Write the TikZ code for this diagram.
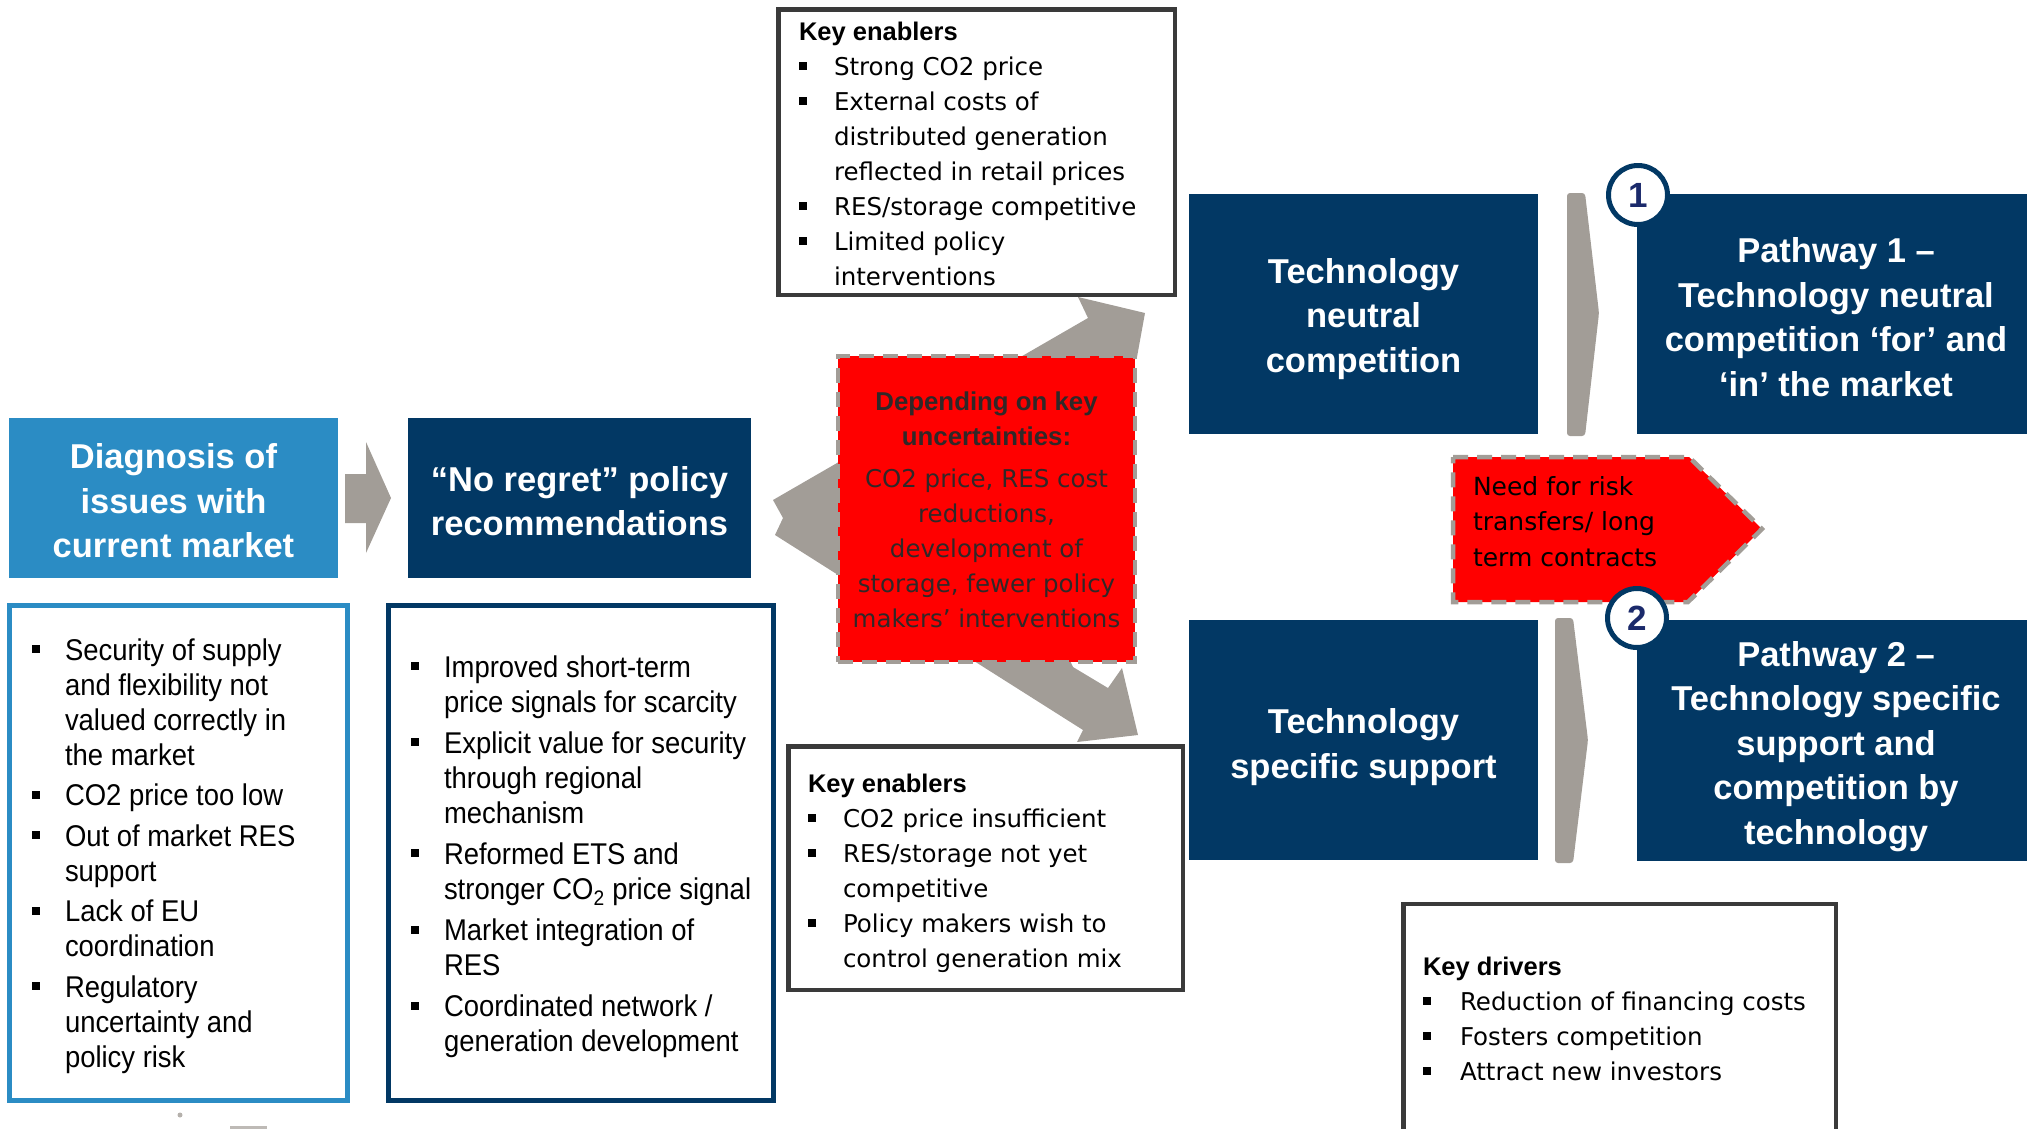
\documentclass[tikz,border=0pt]{standalone}
\usepackage{fontspec}
\setmainfont{DejaVu Sans}
\newfontfamily\arialf{Liberation Sans}
\newfontfamily\condf[FakeStretch=0.915]{Liberation Sans}

\definecolor{navy}{HTML}{023864}
\definecolor{skyblue}{HTML}{2B8CC4}
\definecolor{arrowgray}{HTML}{A29D97}
\definecolor{framegray}{HTML}{3A3A3A}
\definecolor{alertred}{HTML}{FF0000}
\definecolor{redtext}{HTML}{302828}
\definecolor{numblue}{HTML}{1B2A6B}

% list helpers: square bullets and hanging indents
\newcommand{\bullA}{\makebox[33pt][l]{\rule[7pt]{8pt}{8pt}}}
\newcommand{\indA}{\hspace*{33pt}}
\newcommand{\bullB}[1][35pt]{\makebox[#1][l]{\rule[5.5pt]{8pt}{8pt}}}
\newcommand{\indB}{\hspace*{35pt}}
\newcommand{\keyhead}[1]{{\arialf\bfseries\fontsize{25.5}{35}\selectfont #1}}

\pgfdeclarelayer{bg}
\pgfsetlayers{bg,main}

\begin{document}
\begin{tikzpicture}[x=1pt, y=-1pt,
  every node/.style={inner sep=0pt, outer sep=0pt},
  titlebox/.style={rectangle, fill=navy},
  titletext/.style={text=white, align=center,
    font=\arialf\bfseries\fontsize{34.5}{44.5}\selectfont},
  listframe/.style={rectangle, draw=#1, line width=5pt, fill=white},
  enablerframe/.style={rectangle, draw=framegray, line width=4.5pt, fill=white},
  condlist/.style={anchor=base west, font=\condf\fontsize{30}{35}\selectfont},
  enablerlist/.style={anchor=base west, font=\fontsize{24.5}{35}\selectfont},
  alertdash/.style={draw=arrowgray, line width=4.5pt, dash pattern=on 15pt off 9pt, fill=alertred},
  numcircle/.style={circle, draw=navy, line width=5pt, fill=white, minimum size=59pt,
    text=numblue, font=\arialf\bfseries\fontsize{35}{35}\selectfont},
  blockarrow/.style={fill=arrowgray}
]
\useasboundingbox (0,0) rectangle (2027,1128);

% headline boxes
\node[titlebox, fill=skyblue, minimum width=329pt, minimum height=160pt] (diag) at (173.5,498) {};
\node[titlebox, minimum width=343pt, minimum height=160pt] (noregret) at (579.5,498) {};
\node[titlebox, minimum width=349pt, minimum height=240pt] (neutral) at (1363.5,314) {};
\node[titlebox, minimum width=349pt, minimum height=240pt] (specific) at (1363.5,740) {};
\node[titlebox, minimum width=390pt, minimum height=240pt] (path1) at (1832,314) {};
\node[titlebox, minimum width=390pt, minimum height=241pt] (path2) at (1832,740.5) {};

\node[titletext, yshift=-3pt] (diagtext) at (diag.center) {Diagnosis of\\issues with\\current market};
\node[titletext, yshift=-3pt] (noregrettext) at (noregret.center) {“No regret” policy\\recommendations};
\node[titletext, yshift=-5pt] (neutraltext) at (neutral.center) {Technology\\neutral\\competition};
\node[titletext, yshift=-7pt] (specifictext) at (specific.center) {Technology\\specific support};
\node[titletext, xshift=4pt, yshift=-3pt] (path1text) at (path1.center)
  {Pathway 1 –\\Technology neutral\\competition ‘for’ and\\‘in’ the market};
\node[titletext, xshift=4pt, yshift=-6pt] (path2text) at (path2.center)
  {Pathway 2 –\\Technology specific\\support and\\competition by\\technology};

% framed lists
\node[listframe=skyblue, minimum width=338pt, minimum height=495pt] (issues) at (178.5,853) {};
\node[listframe=navy, minimum width=385pt, minimum height=495pt] (recs) at (581,853) {};
\node[enablerframe, minimum width=396.5pt, minimum height=285.5pt] (enabtop) at (976.5,152) {};
\node[enablerframe, minimum width=394.5pt, minimum height=243.5pt] (enabbot) at (985.5,868) {};
\node[enablerframe, minimum width=432.5pt, minimum height=246pt] (drivers) at (1619.5,1027) {};

% uncertainty box
\node[alertdash, minimum width=297pt, minimum height=306pt] (uncert) at (986.5,509) {};

% block arrows behind the boxes
\begin{pgfonlayer}{bg}
  \fill[blockarrow, shift={(diag.east)}]
    (7,-24) -- (28,-24) -- (28,-56) -- (53,0) -- (28,55) -- (28,25) -- (7,25) -- cycle;
  \fill[blockarrow, shift={(uncert.center)}]
    (-213.5,-9) -- (101.5,-191) -- (91.5,-212) -- (158.5,-196) -- (150.5,-152)
    -- (13.5,1) -- (86.5,158) -- (121.5,179) -- (135.5,159) -- (151.5,226)
    -- (90.5,233) -- (96.5,221) -- (-211.5,26) -- (-203.5,9) -- cycle;
  \fill[blockarrow, rounded corners=3pt, shift={(neutral.east)}]
    (29,-121) -- (47,-121) -- (61,-1) -- (47,122) -- (29,122) -- cycle;
  \fill[blockarrow, rounded corners=3pt, shift={(specific.east)}]
    (17,-122) -- (35,-122) -- (50,0) -- (35,123) -- (17,123) -- cycle;
\end{pgfonlayer}

% risk transfer arrow
\coordinate (risk) at (1453,457);
\draw[alertdash] (risk) -- ++(236,0) -- ++(73,72) -- ++(-74,73) -- ++(-235,0) -- cycle;

% pathway numbers
\node[numcircle] (one) at (1638,195) {1};
\node[numcircle] (two) at (1637,618) {2};

% texts
\node[condlist] (issuestext) at (32,660) {\begin{tabular}[t]{@{}l@{}}
\bullA Security of supply\\
\indA and flexibility not\\
\indA valued correctly in\\
\indA the market\\[5.5pt]
\bullA CO2 price too low\\[5.5pt]
\bullA Out of market RES\\
\indA support\\[5.5pt]
\bullA Lack of EU\\
\indA coordination\\[5.5pt]
\bullA Regulatory\\
\indA uncertainty and\\
\indA policy risk
\end{tabular}};

\node[condlist] (recstext) at (411,677) {\begin{tabular}[t]{@{}l@{}}
\bullA Improved short-term\\
\indA price signals for scarcity\\[6.2pt]
\bullA Explicit value for security\\
\indA through regional\\
\indA mechanism\\[6.2pt]
\bullA Reformed ETS and\\
\indA stronger CO\textsubscript{2} price signal\\[6.2pt]
\bullA Market integration of\\
\indA RES\\[6.2pt]
\bullA Coordinated network /\\
\indA generation development
\end{tabular}};

\node[enablerlist] (enabtoptext) at (799,40) {\begin{tabular}[t]{@{}l@{}}
\keyhead{Key enablers}\\
\bullB Strong CO2 price\\
\bullB External costs of\\
\indB distributed generation\\
\indB reflected in retail prices\\
\bullB RES/storage competitive\\
\bullB Limited policy\\
\indB interventions
\end{tabular}};

\node[enablerlist] (enabbottext) at (808,792) {\begin{tabular}[t]{@{}l@{}}
\keyhead{Key enablers}\\
\bullB CO2 price insufficient\\
\bullB RES/storage not yet\\
\indB competitive\\
\bullB Policy makers wish to\\
\indB control generation mix
\end{tabular}};

\node[enablerlist] (driverstext) at (1423,975) {\begin{tabular}[t]{@{}l@{}}
\keyhead{Key drivers}\\
\bullB[37pt]Reduction of financing costs\\
\bullB[37pt]Fosters competition\\
\bullB[37pt]Attract new investors
\end{tabular}};

\node[anchor=base, text=redtext, font=\fontsize{24.5}{35}\selectfont] (uncerttext) at (986.5,410)
  {\begin{tabular}[t]{@{}c@{}}
  {\arialf\bfseries\fontsize{25.8}{35}\selectfont Depending on key}\\
  {\arialf\bfseries\fontsize{25.8}{35}\selectfont uncertainties:}\\[7pt]
  CO2 price, RES cost\\
  reductions,\\
  development of\\
  storage, fewer policy\\
  makers’ interventions
  \end{tabular}};

\node[anchor=base west, font=\fontsize{25}{35.5}\selectfont] (risktext) at (1473,495)
  {\begin{tabular}[t]{@{}l@{}}Need for risk\\transfers/ long\\term contracts\end{tabular}};

% small marks along the lower edge
\fill[arrowgray!80] (180,1115) circle (2.5pt);
\draw[arrowgray!70, line width=3pt] (230,1127) -- (267,1127);
\end{tikzpicture}
\end{document}
